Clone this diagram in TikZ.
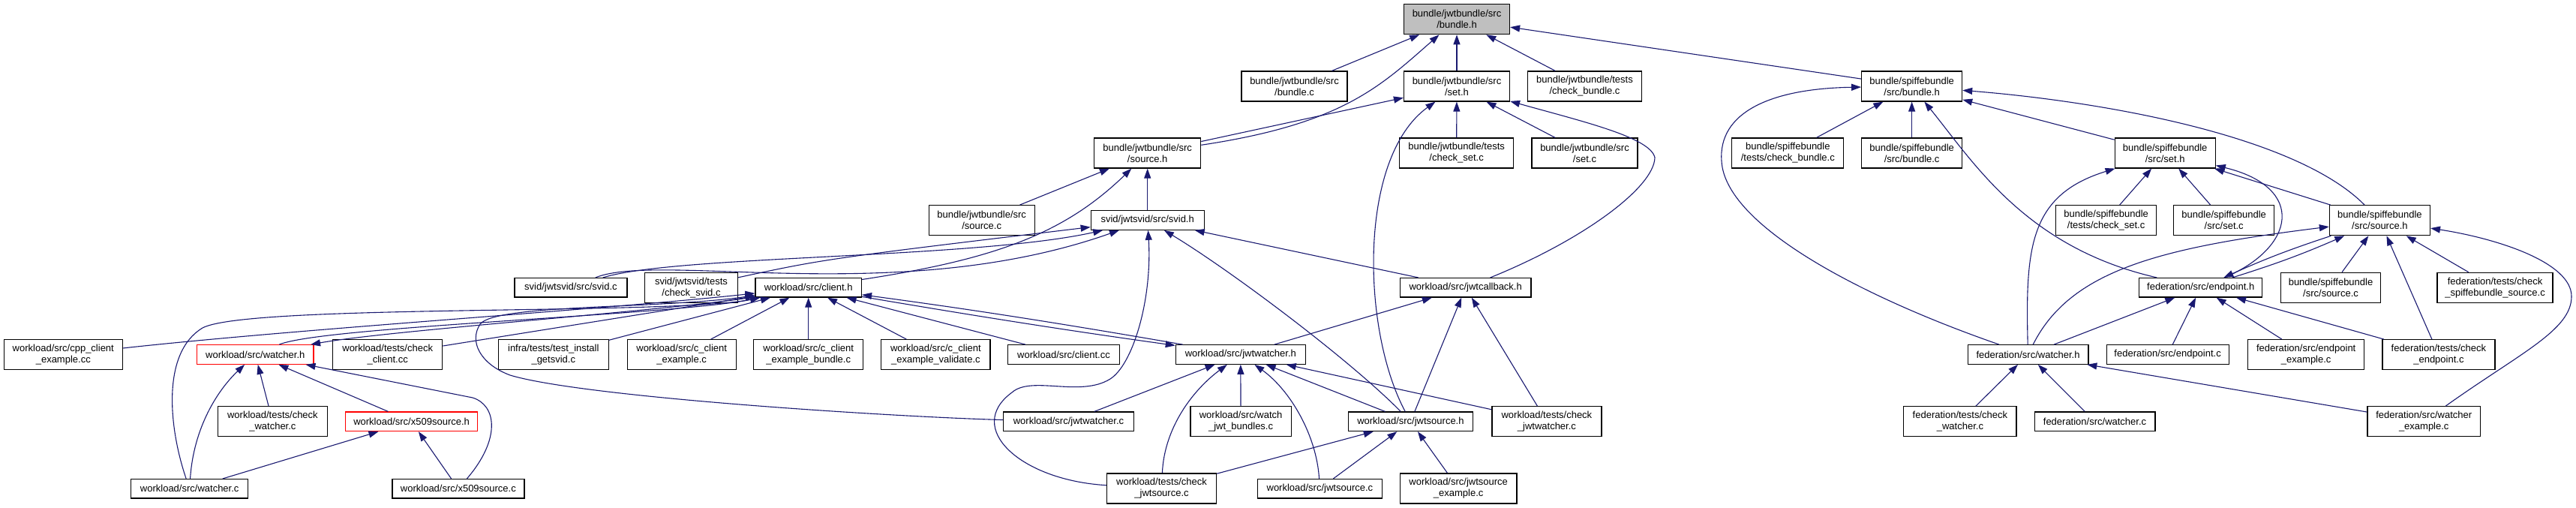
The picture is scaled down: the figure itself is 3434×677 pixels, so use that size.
\documentclass[tikz,border=0pt]{standalone}
\usepackage{fontspec}
\setmainfont{Liberation Sans}
\usetikzlibrary{arrows.meta}

\definecolor{edgeblue}{HTML}{191970}
\definecolor{focusgray}{HTML}{BFBFBF}

\tikzset{
  filebox/.style={draw=black, line width=1.2pt, fill=white, align=center,
    inner xsep=2pt, inner ysep=1pt, minimum height=25.5pt,
    font=\fontsize{13}{15}\selectfont},
  twoline/.style={minimum height=40pt},
  cutbox/.style={draw=red},
  focusbox/.style={fill=focusgray},
  incl/.style={draw=edgeblue, line width=1.1pt, -{Triangle[length=13pt,width=9pt]}},
}

\begin{document}
\begin{tikzpicture}[x=1pt,y=-1pt]
    \useasboundingbox (0,0) rectangle (3434,677);

    % jwt bundle headers
    \node[filebox, focusbox, twoline, minimum width=141pt] (jbundleh) at (1942,25.7) {bundle/jwtbundle/src\\/bundle.h};
    \node[filebox, twoline, minimum width=141pt] (jbundlec) at (1725.5,115) {bundle/jwtbundle/src\\/bundle.c};
    \node[filebox, twoline, minimum width=141pt] (jseth) at (1942,115) {bundle/jwtbundle/src\\/set.h};
    \node[filebox, twoline, minimum width=152pt] (jchkbundle) at (2112.5,115) {bundle/jwtbundle/tests\\/check\_bundle.c};
    \node[filebox, twoline, minimum width=142pt] (jsourceh) at (1529.7,204) {bundle/jwtbundle/src\\/source.h};
    \node[filebox, twoline, minimum width=152pt] (jchkset) at (1941.6,204) {bundle/jwtbundle/tests\\/check\_set.c};
    \node[filebox, twoline, minimum width=141pt] (jsetc) at (2112.5,204) {bundle/jwtbundle/src\\/set.c};
    \node[filebox, twoline, minimum width=141pt] (jsourcec) at (1308.7,293.7) {bundle/jwtbundle/src\\/source.c};
    \node[filebox, minimum width=151pt] (svidh) at (1529.7,293.5) {svid/jwtsvid/src/svid.h};

    % spiffe bundle headers
    \node[filebox, twoline, minimum width=134pt] (sbundleh) at (2548.6,115) {bundle/spiffebundle\\/src/bundle.h};
    \node[filebox, twoline, minimum width=149pt] (schkbundle) at (2383.3,204) {bundle/spiffebundle\\/tests/check\_bundle.c};
    \node[filebox, twoline, minimum width=134pt] (sbundlec) at (2548.6,204) {bundle/spiffebundle\\/src/bundle.c};
    \node[filebox, twoline, minimum width=134pt] (sseth) at (2886.2,204) {bundle/spiffebundle\\/src/set.h};
    \node[filebox, twoline, minimum width=134pt] (schkset) at (2807.6,293.7) {bundle/spiffebundle\\/tests/check\_set.c};
    \node[filebox, twoline, minimum width=134pt] (ssetc) at (2964.7,293.7) {bundle/spiffebundle\\/src/set.c};
    \node[filebox, twoline, minimum width=134pt] (ssourceh) at (3172.4,293.7) {bundle/spiffebundle\\/src/source.h};

    % third row
    \node[filebox, minimum width=150pt] (svidc) at (760.9,383.3) {svid/jwtsvid/src/svid.c};
    \node[filebox, twoline, minimum width=124pt] (chksvid) at (921.5,383.2) {svid/jwtsvid/tests\\/check\_svid.c};
    \node[filebox, minimum width=141.5pt] (clienth) at (1077.7,383.3) {workload/src/client.h};
    \node[filebox, minimum width=174.6pt] (jwtcallbackh) at (1953.7,383.3) {workload/src/jwtcallback.h};
    \node[filebox, minimum width=164pt] (endpointh) at (2933.7,383.3) {federation/src/endpoint.h};
    \node[filebox, twoline, minimum width=133pt] (ssourcec) at (3107,383.3) {bundle/spiffebundle\\/src/source.c};
    \node[filebox, twoline, minimum width=154pt] (chkssource) at (3326,383.3) {federation/tests/check\\\_spiffebundle\_source.c};

    % fourth row
    \node[filebox, twoline, minimum width=158.4pt] (cppclient) at (84.3,472.7) {workload/src/cpp\_client\\\_example.cc};
    \node[filebox, cutbox, minimum width=155.5pt] (watcherh) at (340.3,472.5) {workload/src/watcher.h};
    \node[filebox, twoline, minimum width=146pt] (chkclient) at (516.7,472.7) {workload/tests/check\\\_client.cc};
    \node[filebox, twoline, minimum width=146.7pt] (getsvid) at (737.8,472.7) {infra/tests/test\_install\\\_getsvid.c};
    \node[filebox, twoline, minimum width=145.2pt] (cclient) at (908.7,472.7) {workload/src/c\_client\\\_example.c};
    \node[filebox, twoline, minimum width=145.8pt] (cclientbundle) at (1077.7,472.7) {workload/src/c\_client\\\_example\_bundle.c};
    \node[filebox, twoline, minimum width=145.2pt] (cclientvalidate) at (1247.4,472.7) {workload/src/c\_client\\\_example\_validate.c};
    \node[filebox, minimum width=149pt] (clientcc) at (1418,472.5) {workload/src/client.cc};
    \node[filebox, minimum width=173pt] (jwtwatcherh) at (1653.8,472.5) {workload/src/jwtwatcher.h};
    \node[filebox, minimum width=160.8pt] (fwatcherh) at (2703.5,472.5) {federation/src/watcher.h};
    \node[filebox, minimum width=163pt] (endpointc) at (2889.6,472.5) {federation/src/endpoint.c};
    \node[filebox, twoline, minimum width=154.8pt] (endpointex) at (3074.2,472.7) {federation/src/endpoint\\\_example.c};
    \node[filebox, twoline, minimum width=150pt] (chkendpoint) at (3250.9,472.7) {federation/tests/check\\\_endpoint.c};

    % fifth row
    \node[filebox, twoline, minimum width=146pt] (chkwatcher) at (363.4,561.8) {workload/tests/check\\\_watcher.c};
    \node[filebox, cutbox, minimum width=176pt] (x509h) at (548.6,561.8) {workload/src/x509source.h};
    \node[filebox, minimum width=173.8pt] (jwtwatcherc) at (1424.5,561.8) {workload/src/jwtwatcher.c};
    \node[filebox, twoline, minimum width=134.2pt] (watchjwt) at (1654.1,561.8) {workload/src/watch\\\_jwt\_bundles.c};
    \node[filebox, minimum width=165.7pt] (jwtsourceh) at (1880.4,561.8) {workload/src/jwtsource.h};
    \node[filebox, twoline, minimum width=146pt] (chkjwtwatcher) at (2061.9,561.8) {workload/tests/check\\\_jwtwatcher.c};
    \node[filebox, twoline, minimum width=150.3pt] (fchkwatcher) at (2612.9,561.8) {federation/tests/check\\\_watcher.c};
    \node[filebox, minimum width=160.8pt] (fwatcherc) at (2792.5,561.8) {federation/src/watcher.c};
    \node[filebox, twoline, minimum width=150.3pt] (fwatcherex) at (3231.2,561.8) {federation/src/watcher\\\_example.c};

    % bottom row
    \node[filebox, minimum width=156.2pt] (watcherc) at (252.7,651.3) {workload/src/watcher.c};
    \node[filebox, minimum width=176pt] (x509c) at (610.9,651.3) {workload/src/x509source.c};
    \node[filebox, twoline, minimum width=146pt] (chkjwtsource) at (1548.5,651) {workload/tests/check\\\_jwtsource.c};
    \node[filebox, minimum width=165.7pt] (jwtsourcec) at (1759.4,651.2) {workload/src/jwtsource.c};
    \node[filebox, twoline, minimum width=155.5pt] (jwtsourceex) at (1944.2,651) {workload/src/jwtsource\\\_example.c};

    % into jwt bundle.h
    \draw[incl] (jbundlec) -- (jbundleh);
    \draw[incl] (jseth) -- (jbundleh);
    \draw[incl] (jchkbundle) -- (jbundleh);
    \draw[incl] (sbundleh) -- (jbundleh);
    \draw[incl] (jsourceh) .. controls (1790,165) and (1840,115) .. (jbundleh);

    % into jwt set.h
    \draw[incl] (jsourceh) -- (jseth);
    \draw[incl] (jchkset) -- (jseth);
    \draw[incl] (jsetc) -- (jseth);
    \draw[incl] (jwtsourceh) .. controls (1815,440) and (1810,210) .. (jseth);
    \draw[incl] (jwtcallbackh) .. controls (2110,320) and (2205,250) .. (2206,210) .. controls (2200,183) and (2110,162) .. (jseth);

    % into jwt source.h
    \draw[incl] (jsourcec) -- (jsourceh);
    \draw[incl] (svidh) -- (jsourceh);
    \draw[incl] (clienth) .. controls (1330,345) and (1420,310) .. (jsourceh);

    % into svid.h
    \draw[incl] (svidc) .. controls (900,340) and (1300,345) .. (svidh);
    \draw[incl] (svidc) .. controls (880,335) and (1200,410) .. (svidh);
    \draw[incl] (chksvid) .. controls (1100,345) .. (svidh);
    \draw[incl] (jwtcallbackh) -- (svidh);
    \draw[incl] (jwtsourceh) .. controls (1800,480) and (1640,360) .. (svidh);
    \draw[incl] (chkjwtsource) .. controls (1360,640) and (1285,570) .. (1349,523)
        .. controls (1375,500) and (1440,530) .. (1480,505)
        .. controls (1510,486) and (1536,400) .. (svidh);

    % into client.h
    \draw[incl] (cppclient) .. controls (400,438) and (800,413) .. (clienth);
    \draw[incl] (watcherh) .. controls (430,435) and (900,420) .. (clienth);
    \draw[incl] (clienth) .. controls (905,413) and (520,440) .. (watcherh);
    \draw[incl] (watcherc) .. controls (225,570) and (215,470) .. (270,437) .. controls (330,405) and (900,420) .. (clienth);
    \draw[incl] (chkclient) -- (clienth);
    \draw[incl] (getsvid) -- (clienth);
    \draw[incl] (cclient) -- (clienth);
    \draw[incl] (cclientbundle) -- (clienth);
    \draw[incl] (cclientvalidate) -- (clienth);
    \draw[incl] (clientcc) -- (clienth);
    \draw[incl] (jwtwatcherc) .. controls (1200,556) and (780,530) .. (680,500)
        .. controls (640,485) and (625,455) .. (640,432)
        .. controls (660,405) and (880,412) .. (clienth);
    \draw[incl] (jwtwatcherh) .. controls (1420,432) and (1300,413) .. (clienth);
    \draw[incl] (clienth) .. controls (1300,421) and (1420,440) .. (jwtwatcherh);

    % into watcher.h and x509source.h
    \draw[incl] (chkwatcher) -- (watcherh);
    \draw[incl] (x509h) -- (watcherh);
    \draw[incl] (watcherc) .. controls (258,570) and (290,520) .. (watcherh);
    \draw[incl] (x509c) .. controls (668,585) and (662,540) .. (630,530) -- (watcherh);
    \draw[incl] (watcherc) -- (x509h);
    \draw[incl] (x509c) -- (x509h);

    % into jwtwatcher.h
    \draw[incl] (jwtwatcherc) -- (jwtwatcherh);
    \draw[incl] (chkjwtsource) .. controls (1552,570) and (1590,520) .. (jwtwatcherh);
    \draw[incl] (watchjwt) -- (jwtwatcherh);
    \draw[incl] (jwtsourcec) .. controls (1755,580) and (1720,520) .. (jwtwatcherh);
    \draw[incl] (jwtsourceh) -- (jwtwatcherh);
    \draw[incl] (chkjwtwatcher) -- (jwtwatcherh);

    % into jwtcallback.h
    \draw[incl] (jwtwatcherh) -- (jwtcallbackh);
    \draw[incl] (jwtsourceh) -- (jwtcallbackh);
    \draw[incl] (chkjwtwatcher) -- (jwtcallbackh);

    % into jwtsource.h
    \draw[incl] (chkjwtsource) -- (jwtsourceh);
    \draw[incl] (jwtsourcec) -- (jwtsourceh);
    \draw[incl] (jwtsourceex) -- (jwtsourceh);

    % into spiffe bundle.h
    \draw[incl] (schkbundle) -- (sbundleh);
    \draw[incl] (sbundlec) -- (sbundleh);
    \draw[incl] (sseth) -- (sbundleh);
    \draw[incl] (ssourceh) .. controls (3060,180) and (2800,135) .. (sbundleh);
    \draw[incl] (fwatcherh) .. controls (2480,395) and (2300,300) .. (2295,215) .. controls (2290,150) and (2360,118) .. (sbundleh);
    \draw[incl] (endpointh) .. controls (2700,330) and (2630,215) .. (sbundleh);

    % into spiffe set.h
    \draw[incl] (schkset) -- (sseth);
    \draw[incl] (ssetc) -- (sseth);
    \draw[incl] (ssourceh) -- (sseth);
    \draw[incl] (fwatcherh) .. controls (2700,330) and (2705,260) .. (sseth);
    \draw[incl] (endpointh) .. controls (3060,330) and (3075,250) .. (sseth);

    % into spiffe source.h
    \draw[incl] (ssourcec) -- (ssourceh);
    \draw[incl] (chkssource) -- (ssourceh);
    \draw[incl] (chkendpoint) -- (ssourceh);
    \draw[incl] (fwatcherh) .. controls (2760,360) and (2880,330) .. (ssourceh);
    \draw[incl] (endpointh) to[bend right=3] (ssourceh);
    \draw[incl] (ssourceh) to[bend right=3] (endpointh);
    \draw[incl] (fwatcherex) .. controls (3360,470) and (3428,440) .. (3428,395) .. controls (3428,350) and (3330,318) .. (ssourceh);

    % into endpoint.h
    \draw[incl] (fwatcherh) -- (endpointh);
    \draw[incl] (endpointc) -- (endpointh);
    \draw[incl] (endpointex) -- (endpointh);
    \draw[incl] (chkendpoint) -- (endpointh);

    % into federation watcher.h
    \draw[incl] (fchkwatcher) -- (fwatcherh);
    \draw[incl] (fwatcherc) -- (fwatcherh);
    \draw[incl] (fwatcherex) -- (fwatcherh);

\end{tikzpicture}
\end{document}
